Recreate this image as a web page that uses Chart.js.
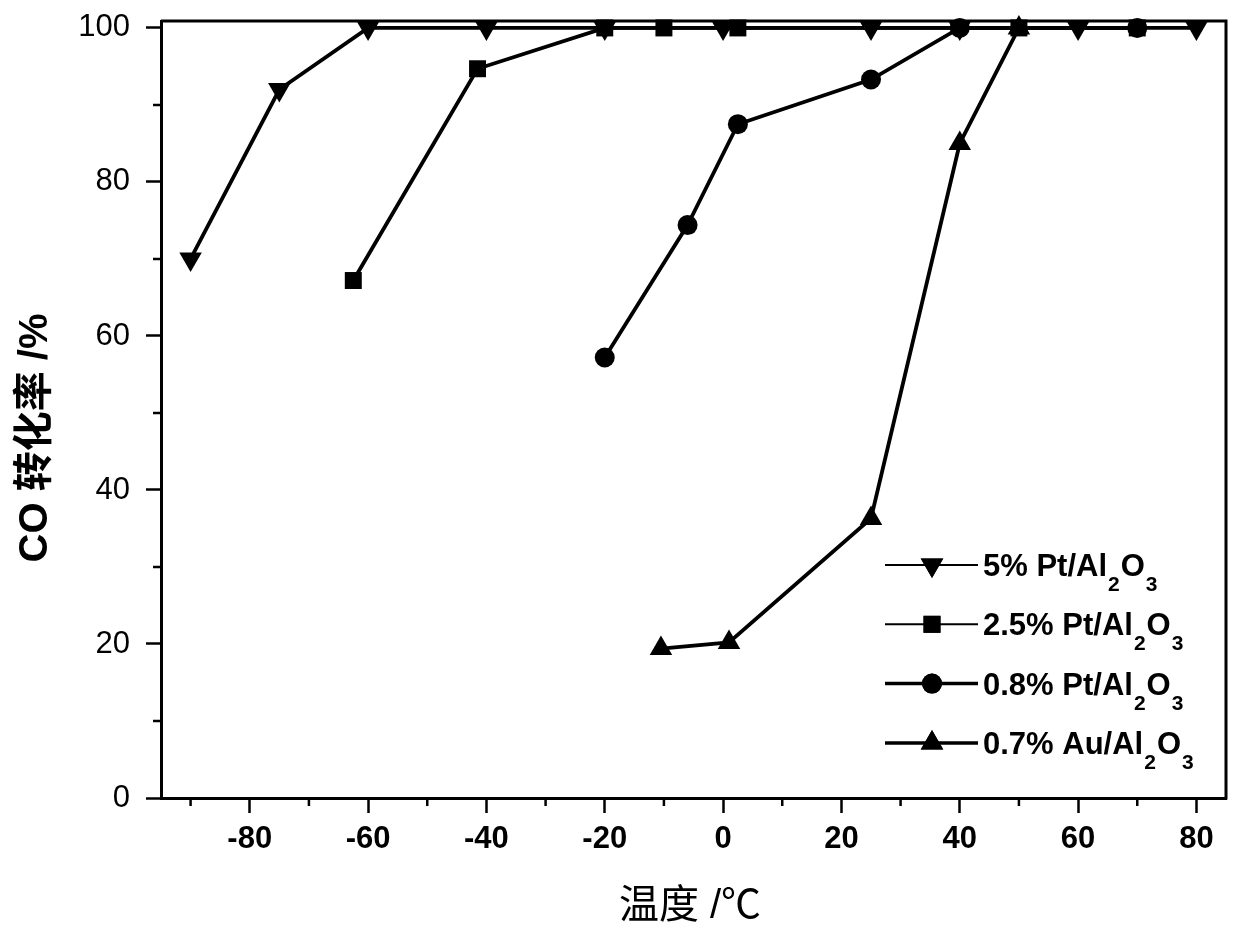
<!DOCTYPE html>
<html lang="zh">
<head>
<meta charset="UTF-8">
<title>CO 转化率</title>
<script src="https://cdn.jsdelivr.net/npm/chart.js"></script>
<style>
    body { margin: 0; background: #fff; }
    #wrap { width: 1240px; height: 945px; }
</style>
</head>
<body>
<div id="wrap"><canvas id="co-chart"></canvas></div>
<script>
// data
const seriesLabels = ['5% Pt/Al2O3', '2.5% Pt/Al2O3', '0.8% Pt/Al2O3', '0.7% Au/Al2O3'];

const tempPt5 = [-90, -75, -60, -40, -20, 0, 25, 40, 60, 80];
const convPt5 = [70, 92, 100, 100, 100, 100, 100, 100, 100, 100];

const tempPt25 = [-62.5, -41.5, -20, -10, 2.5, 50, 70];
const convPt25 = [67.2, 94.7, 100, 100, 100, 100, 100];

const tempPt08 = [-20, -6, 2.5, 25, 40, 70];
const convPt08 = [57.2, 74.4, 87.5, 93.3, 100, 100];

const tempAu = [-10.5, 1, 25, 40, 50];
const convAu = [19.4, 20.2, 36.3, 85, 100];

const xTicks = [-90, -80, -70, -60, -50, -40, -30, -20, -10, 0, 10, 20, 30, 40, 50, 60, 70, 80];
const yTicks = [0, 10, 20, 30, 40, 50, 60, 70, 80, 90, 100];

const xTitle = '温度 /℃';
const yTitle = 'CO 转化率 /%';

const FONT = '"Liberation Sans", Arial, "Noto Sans CJK SC", sans-serif';

const markers = [
    { style: 'triangle', radius: 13, rotation: 180 },
    { style: 'rect', radius: 12, rotation: 0 },
    { style: 'circle', radius: 10, rotation: 0 },
    { style: 'triangle', radius: 13, rotation: 0 }
];
const legendLineWidth = [2, 2, 3.5, 3.5];

function toPoints(xs, ys) {
    return xs.map((x, i) => ({ x: x, y: ys[i] }));
}

const seriesData = [
    toPoints(tempPt5, convPt5),
    toPoints(tempPt25, convPt25),
    toPoints(tempPt08, convPt08),
    toPoints(tempAu, convAu)
];

const datasets = seriesData.map((pts, i) => ({
    label: seriesLabels[i],
    data: pts,
    borderColor: '#000',
    backgroundColor: '#000',
    borderWidth: 3.8,
    pointStyle: markers[i].style,
    pointRadius: markers[i].radius,
    pointRotation: markers[i].rotation,
    pointBorderWidth: 0,
    pointBackgroundColor: '#000',
    tension: 0,
    clip: false
}));

function drawMarker(ctx, m, x, y) {
    ctx.fillStyle = '#000';
    Chart.helpers.drawPoint(ctx, { pointStyle: m.style, radius: m.radius, rotation: m.rotation, borderWidth: 0 }, x, y);
    ctx.fill();
}

// text with subscript digits after letters, e.g. Al2O3
function drawChem(ctx, text, x, y) {
    const parts = text.split(/(?<=[A-Za-z])(\d+)/);
    parts.forEach((p, i) => {
        if (!p) return;
        const sub = i % 2 === 1;
        ctx.font = (sub ? 'bold 21px ' : 'bold 31px ') + FONT;
        ctx.fillText(p, x + (sub ? 1 : 0), sub ? y + 15 : y);
        x += ctx.measureText(p).width + (sub ? 2 : 0);
    });
}

const decorPlugin = {
    id: 'decor',
    afterDraw(chart) {
        const ctx = chart.ctx;
        const a = chart.chartArea;
        const xs = chart.scales.x, ys = chart.scales.y;
        ctx.save();
        ctx.strokeStyle = '#000';
        ctx.fillStyle = '#000';

        // top and right frame
        ctx.lineWidth = 3;
        ctx.beginPath();
        ctx.moveTo(a.left, a.top);
        ctx.lineTo(a.right, a.top);
        ctx.lineTo(a.right, a.bottom + 1.5);
        ctx.stroke();

        // minor ticks
        ctx.lineWidth = 2.5;
        ctx.beginPath();
        xTicks.filter(v => v % 20 !== 0).forEach(v => {
            const px = xs.getPixelForValue(v);
            ctx.moveTo(px, a.bottom);
            ctx.lineTo(px, a.bottom + 8);
        });
        yTicks.filter(v => v % 20 !== 0).forEach(v => {
            const py = ys.getPixelForValue(v);
            ctx.moveTo(a.left, py);
            ctx.lineTo(a.left - 8, py);
        });
        ctx.stroke();

        // axis titles
        ctx.textAlign = 'center';
        ctx.textBaseline = 'middle';
        ctx.font = '40px ' + FONT;
        ctx.fillText(xTitle, 690, 907);
        ctx.save();
        ctx.translate(36, 438);
        ctx.rotate(-Math.PI / 2);
        ctx.font = 'bold 40px ' + FONT;
        ctx.fillText(yTitle, 0, 0);
        ctx.restore();

        // legend
        ctx.textAlign = 'left';
        ctx.textBaseline = 'alphabetic';
        seriesLabels.forEach((label, i) => {
            const y = 565 + i * 59.3;
            ctx.lineWidth = legendLineWidth[i];
            ctx.beginPath();
            ctx.moveTo(885, y);
            ctx.lineTo(978, y);
            ctx.stroke();
            drawMarker(ctx, markers[i], 932, y);
            drawChem(ctx, label, 983, y + 11);
        });
        ctx.restore();
    }
};

new Chart(document.getElementById('co-chart'), {
    type: 'line',
    data: { datasets: datasets },
    plugins: [decorPlugin],
    options: {
        responsive: true,
        maintainAspectRatio: false,
        animation: false,
        devicePixelRatio: 1,
        layout: { padding: { left: 0, right: 14, top: 21, bottom: 0 } },
        plugins: {
            legend: { display: false },
            tooltip: { enabled: false }
        },
        scales: {
            x: {
                type: 'linear',
                min: -95,
                max: 85,
                afterBuildTicks: s => { s.ticks = xTicks.map(v => ({ value: v })); },
                afterFit: s => { s.height = 147; s.paddingLeft = 0; s.paddingRight = 0; },
                ticks: {
                    autoSkip: false,
                    maxRotation: 0,
                    padding: 8,
                    color: '#000',
                    font: { family: FONT, size: 31, weight: 'bold' },
                    callback: v => (v % 20 === 0 ? v : '')
                },
                grid: {
                    drawOnChartArea: false,
                    tickLength: 15,
                    tickWidth: 2.5,
                    tickColor: c => (c.tick && c.tick.value % 20 === 0 ? '#000' : 'rgba(0,0,0,0)')
                },
                border: { color: '#000', width: 3 }
            },
            y: {
                min: 0,
                max: 100.9,
                afterBuildTicks: s => { s.ticks = yTicks.map(v => ({ value: v })); },
                afterFit: s => { s.width = 161; s.paddingTop = 0; s.paddingBottom = 0; },
                ticks: {
                    padding: 16,
                    color: '#000',
                    font: { family: FONT, size: 31 },
                    callback: v => (v % 20 === 0 ? v : '')
                },
                grid: {
                    drawOnChartArea: false,
                    tickLength: 15,
                    tickWidth: 2.5,
                    tickColor: c => (c.tick && c.tick.value % 20 === 0 ? '#000' : 'rgba(0,0,0,0)')
                },
                border: { color: '#000', width: 3 }
            }
        }
    }
});
</script>
</body>
</html>
